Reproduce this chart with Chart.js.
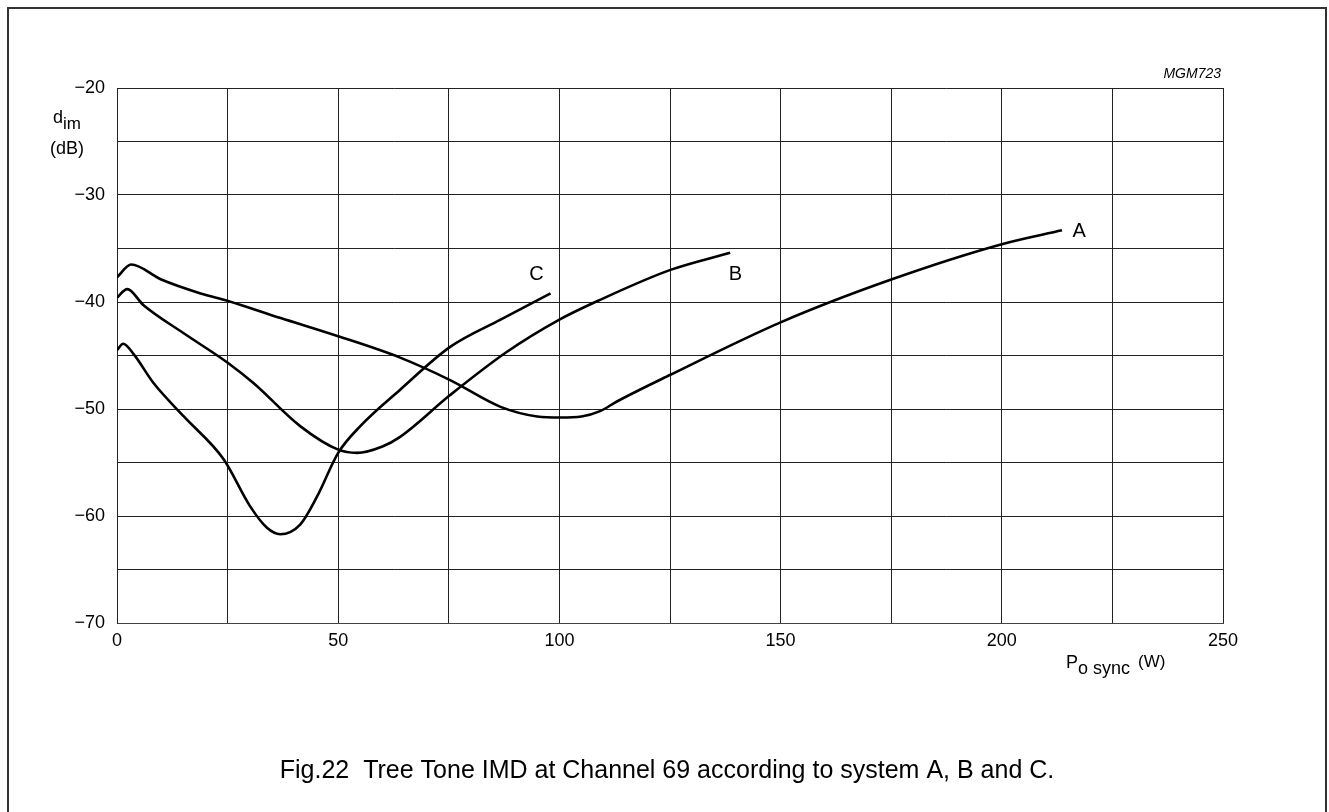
<!DOCTYPE html>
<html>
<head>
<meta charset="utf-8">
<script src="https://cdn.jsdelivr.net/npm/chart.js@4"></script>
<style>
  body { margin: 0; background: #fff; }
  canvas { display: block; }
</style>
</head>
<body>
<canvas id="myChart" width="1329" height="812"></canvas>
<script>
// P (W) vs dim (dB)
const aX = [0, 3.2, 10, 18.9, 25.1, 37, 50, 64, 75.3, 86.7, 95, 100.2, 105, 109.2, 113, 125.1, 150, 175, 200, 213.6];
const aY = [-37.7, -36.5, -37.9, -39.2, -39.9, -41.5, -43.2, -45.2, -47.3, -49.8, -50.7, -50.8, -50.7, -50.2, -49.3, -46.8, -41.9, -37.9, -34.6, -33.3];

const bX = [0, 2.3, 6, 15, 25.1, 30.9, 41.4, 50, 54.2, 60, 64, 75.3, 88, 100, 109.2, 125.1, 138.6];
const bY = [-39.6, -38.8, -40.3, -42.9, -45.7, -47.6, -51.6, -53.8, -54.1, -53.5, -52.6, -48.7, -44.7, -41.65, -39.8, -37.0, -35.4];

const cX = [0, 1.4, 3.8, 8.3, 15.1, 24.1, 30.1, 33.9, 36.9, 41.4, 45.2, 50, 55, 64, 75.3, 86.7, 98];
const cY = [-44.5, -43.9, -44.9, -47.6, -50.7, -54.7, -59.1, -61.1, -61.7, -60.8, -58.2, -54.1, -51.6, -48.2, -44.2, -41.65, -39.2];

const curveNames = ['A', 'B', 'C'];
const labelX = [217.5, 139.8, 94.8];
const labelY = [-33.4, -37.4, -37.4];

const xTicks = [0, 50, 100, 150, 200, 250];
const yTicks = [-20, -30, -40, -50, -60, -70];

const FONT = '"Liberation Sans", Arial, sans-serif';

function pts(xs, ys) {
  return xs.map((x, i) => ({ x: x, y: ys[i] }));
}

function line(data) {
  return {
    data: data,
    borderColor: '#000',
    borderWidth: 2.6,
    pointRadius: 0,
    fill: false,
    cubicInterpolationMode: 'monotone'
  };
}

const extras = {
  id: 'extras',
  afterDraw(chart) {
    const ctx = chart.ctx;
    const xs = chart.scales.x, ys = chart.scales.y;
    ctx.save();
    ctx.fillStyle = '#000';

    // curve labels
    ctx.font = '20px "Liberation Sans Narrow", ' + FONT;
    ctx.textAlign = 'center';
    ctx.textBaseline = 'middle';
    curveNames.forEach((n, i) => {
      ctx.fillText(n, xs.getPixelForValue(labelX[i]), ys.getPixelForValue(labelY[i]));
    });

    // y title
    ctx.textAlign = 'left';
    ctx.textBaseline = 'alphabetic';
    ctx.font = '18px ' + FONT;
    ctx.fillText('d', 53, 123);
    ctx.font = '17px ' + FONT;
    ctx.fillText('im', 63, 129);
    ctx.font = '18px ' + FONT;
    ctx.fillText('(dB)', 50, 154);

    // x title
    ctx.font = '18px ' + FONT;
    ctx.fillText('P', 1066, 668);
    ctx.font = '18px ' + FONT;
    ctx.fillText('o sync', 1078, 674);
    ctx.font = '17px ' + FONT;
    ctx.fillText('(W)', 1138, 667);

    // figure code
    ctx.font = 'italic 14px ' + FONT;
    ctx.textAlign = 'right';
    ctx.fillText('MGM723', 1221, 78);

    // caption
    ctx.font = '25px ' + FONT;
    ctx.textAlign = 'center';
    ctx.textBaseline = 'middle';
    ctx.fillText('Fig.22  Tree Tone IMD at Channel 69 according to system A, B and C.', 667, 771);

    // frame
    ctx.strokeStyle = '#333';
    ctx.lineWidth = 2;
    ctx.strokeRect(8, 8, 1318, 830);
    ctx.restore();
  }
};

new Chart(document.getElementById('myChart').getContext('2d'), {
  type: 'line',
  data: {
    datasets: [line(pts(aX, aY)), line(pts(bX, bY)), line(pts(cX, cY))]
  },
  options: {
    responsive: false,
    animation: false,
    layout: { padding: { left: 0, top: 88, right: 106, bottom: 0 } },
    plugins: { legend: { display: false }, tooltip: { enabled: false } },
    scales: {
      x: {
        type: 'linear',
        min: 0,
        max: 250,
        afterFit(s) { s.height = 189; },
        grid: { color: '#222', lineWidth: 1, drawTicks: false },
        border: { color: '#444', width: 1 },
        ticks: {
          stepSize: 25,
          padding: 7,
          color: '#000',
          font: { family: FONT, size: 18 },
          callback: v => xTicks.includes(v) ? String(v) : ''
        }
      },
      y: {
        min: -70,
        max: -20,
        afterFit(s) { s.width = 117; },
        grid: { color: '#222', lineWidth: 1, drawTicks: false },
        border: { color: '#222', width: 1 },
        ticks: {
          stepSize: 5,
          padding: 12,
          color: '#000',
          font: { family: FONT, size: 18 },
          callback: v => yTicks.includes(v) ? '\u2212' + Math.abs(v) : ''
        }
      }
    }
  },
  plugins: [extras]
});
</script>
</body>
</html>
